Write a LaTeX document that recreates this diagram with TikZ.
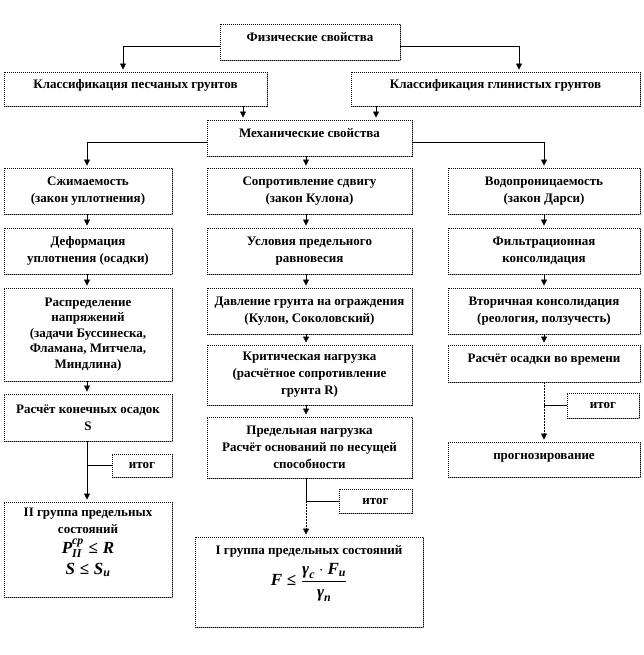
\documentclass[tikz,border=0pt]{standalone}
\usepackage{fontspec}
\usepackage{amsmath}
\setmainfont{Liberation Serif}
\usetikzlibrary{arrows.meta,calc}
\newcommand\myit[1]{\text{\itshape #1}}
\newcommand\bigf{\fontsize{17}{19}\selectfont}
\newcommand\bx[7][]{\node[box, minimum width={#5-#3}, minimum height={#6-#4}, #1] (#2) at ({(#3+#5)/2},{(#4+#6)/2}) {#7};}
\begin{document}
\begin{tikzpicture}[x=1pt,y=-1pt,
  box/.style={draw=black, line width=0.9pt, dash pattern=on 1pt off 1pt,
    preaction={draw=black!45, solid, line width=0.5pt},
    fill=white, align=center, inner sep=0pt,
    font=\bfseries\fontsize{13}{17}\selectfont},
  up/.style={text depth=10pt},
  arr/.style={draw, line width=0.8pt, -{Triangle[length=6pt,width=6pt]}, shorten >=2pt},
  ln/.style={draw, line width=0.8pt},
  dots/.style={dash pattern=on 1.5pt off 1.5pt}]
\fill[white] (0,0) rectangle (643,655);
\useasboundingbox (0,0) rectangle (643,655);
\coordinate (colL) at (87,0);
\coordinate (colM) at (306,0);
\coordinate (colR) at (544,0);
% top
\bx[up]{fiz}{220}{24}{400}{60}{Физические  свойства}
\bx[up]{clsL}{4}{72}{267}{106}{Классификация песчаных грунтов}
\bx[up]{clsR}{351}{72}{640}{106}{Классификация глинистых  грунтов}
\bx[up]{mech}{207}{120}{412}{156}{Механические  свойства}
% row 4
\bx{szh}{4}{168}{172}{214}{Сжимаемость\\(закон уплотнения)}
\bx{sopr}{207}{168}{412}{214}{Сопротивление  сдвигу\\(закон Кулона)}
\bx{vod}{448}{168}{640}{214}{Водопроницаемость\\(закон Дарси)}
% row 5
\bx{def}{4}{228}{172}{274}{Деформация\\уплотнения (осадки)}
\bx{usl}{207}{228}{412}{274}{Условия предельного\\равновесия}
\bx{filt}{448}{228}{640}{274}{Фильтрационная\\консолидация}
% row 6
\bx[font=\bfseries\fontsize{13}{15.4}\selectfont]{rasp}{4}{288}{172}{381}{Распределение\\напряжений\\(задачи Буссинеска,\\Фламана, Митчела,\\Миндлина)}
\bx{davl}{207}{288}{412}{334}{Давление грунта на ограждения\\(Кулон, Соколовский)}
\bx{vtor}{448}{288}{640}{334}{Вторичная консолидация\\(реология, ползучесть)}
% row 7
\bx{krit}{207}{345}{412}{405}{Критическая нагрузка\\(расчётное сопротивление\\грунта R)}
\bx[up]{rosV}{448}{345}{640}{382}{Расчёт осадки во времени}
\bx{rkon}{4}{394}{172}{441}{Расчёт конечных  осадок\\S}
% row 8
\bx{pred}{207}{417}{412}{478}{Предельная нагрузка\\Расчёт оснований по несущей\\способности}
\bx{itogR}{567}{393}{639}{418}{итог}
\bx[text depth=6pt]{prog}{448}{442}{640}{477}{прогнозирование}
\bx{itogL}{112}{454}{172}{477}{итог}
\bx{itogM}{339}{489}{412}{513}{итог}
\bx{grII}{4}{502}{172}{597}{II группа предельных\\состояний\\[3pt]{\bigf$\myit{P}^{\myit{ср}}_{\myit{II}}\mathrel{\text{≤}}\myit{R}$}\\[4pt]{\bigf$\myit{S}\mathrel{\text{≤}}\myit{S}_{\myit{u}}$}\\ \mbox{}}
\bx{grI}{195}{537}{423}{627}{I группа предельных  состояний\\[5pt]{\bigf$\myit{F}\mathrel{\text{≤}}\dfrac{\myit{γ}_{\myit{c}}\cdot\myit{F}_{\myit{u}}}{\myit{γ}_{\myit{n}}}$}\\[16pt]\mbox{}}
% connectors top
\draw[arr] ($(fiz.west)+(0,4)$) -| ($(clsL.north)+(-12.5,0)$);
\draw[arr] ($(fiz.east)+(0,4)$) -| ($(clsR.north)+(23.5,0)$);
\coordinate (c1) at ($(clsL.south)+(107.5,0)$);
\coordinate (c2) at ($(clsR.south)+(-119.5,0)$);
\draw[arr] (c1) -- (c1 |- mech.north);
\draw[arr] (c2) -- (c2 |- mech.north);
\draw[arr] ($(mech.west)+(0,4)$) -| (szh.north -| colL);
\draw[arr] ($(mech.east)+(0,4)$) -| (vod.north -| colR);
\draw[arr] (mech.south -| colM) -- (sopr.north -| colM);
% left column
\draw[arr] (szh.south -| colL) -- (def.north -| colL);
\draw[arr] (def.south -| colL) -- (rasp.north -| colL);
\draw[arr] (rasp.south -| colL) -- (rkon.north -| colL);
\draw[arr] (rkon.south -| colL) -- (grII.north -| colL);
\draw[ln] (itogL.west -| colL) -- (itogL.west);
% middle column
\draw[arr] (sopr.south -| colM) -- (usl.north -| colM);
\draw[arr] (usl.south -| colM) -- (davl.north -| colM);
\draw[arr] (davl.south -| colM) -- (krit.north -| colM);
\draw[arr] (krit.south -| colM) -- (pred.north -| colM);
\draw[ln] (pred.south -| colM) -- (itogM.west -| colM) -- (itogM.west);
\draw[arr,dots] (itogM.west -| colM) -- (grI.north -| colM);
% right column
\draw[arr] (vod.south -| colR) -- (filt.north -| colR);
\draw[arr] (filt.south -| colR) -- (vtor.north -| colR);
\draw[arr] (vtor.south -| colR) -- (rosV.north -| colR);
\draw[arr,dots] (rosV.south -| colR) -- (prog.north -| colR);
\draw[ln] (itogR.west -| colR) -- (itogR.west);
\end{tikzpicture}
\end{document}
